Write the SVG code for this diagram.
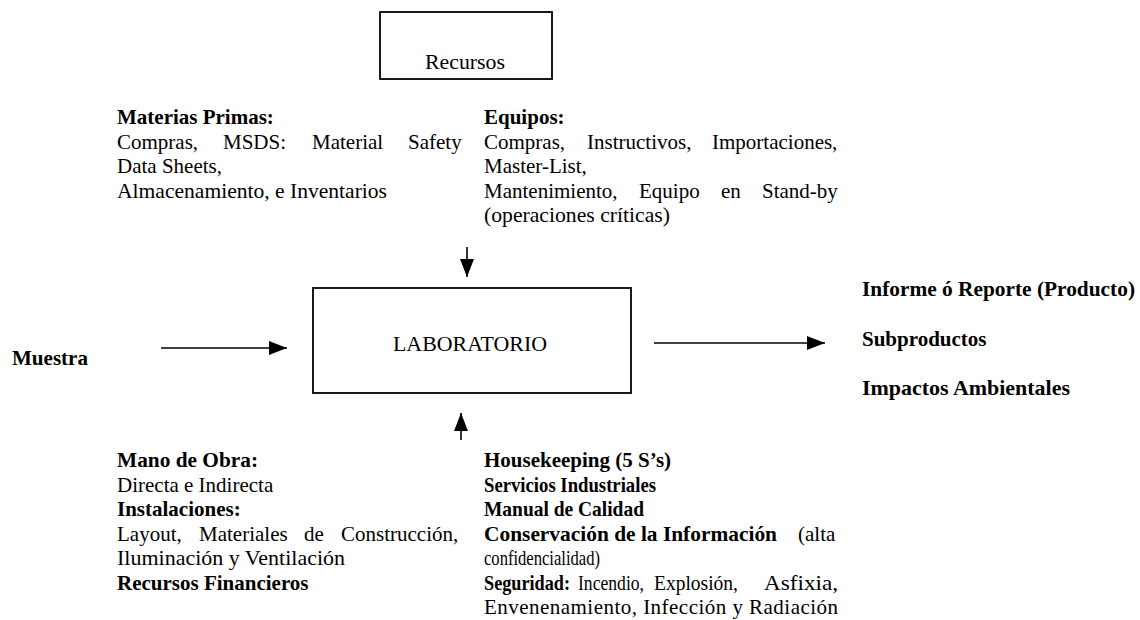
<svg xmlns="http://www.w3.org/2000/svg" width="1140" height="620" viewBox="0 0 1140 620">
<style>
.t{font-family:"Liberation Serif","Times New Roman",serif;font-size:21px;fill:#000}
.b{font-weight:bold}
.box{fill:#fff;stroke:#000;stroke-width:1.8}
.ln{stroke:#000;stroke-width:1.6;fill:none}
</style>
<defs>
<marker id="ah" markerUnits="userSpaceOnUse" markerWidth="18" markerHeight="14" refX="18" refY="7" orient="auto">
<path d="M0,0 L18,7 L0,14 z" fill="#000"/>
</marker>
</defs>
<rect width="1140" height="620" fill="#fff"/>

<g id="recursos">
<rect class="box" x="380" y="12" width="172" height="67"/>
<text class="t" x="425" y="69" textLength="80" lengthAdjust="spacingAndGlyphs">Recursos</text>
</g>

<g id="materias">
<text class="t b" x="117" y="124">Materias Primas:</text>
<text class="t" y="148.5"><tspan x="117">Compras,</tspan><tspan x="223">MSDS:</tspan><tspan x="312">Material</tspan><tspan x="408">Safety</tspan></text>
<text class="t" x="117" y="173">Data Sheets,</text>
<text class="t" x="117" y="197.5" textLength="270" lengthAdjust="spacingAndGlyphs">Almacenamiento, e Inventarios</text>
</g>

<g id="equipos">
<text class="t b" x="484" y="124">Equipos:</text>
<text class="t" y="148.5"><tspan x="484">Compras,</tspan><tspan x="587">Instructivos,</tspan><tspan x="712">Importaciones,</tspan></text>
<text class="t" x="484" y="173">Master-List,</text>
<text class="t" y="197.5"><tspan x="484">Mantenimiento,</tspan><tspan x="639">Equipo</tspan><tspan x="721">en</tspan><tspan x="762">Stand-by</tspan></text>
<text class="t" x="484" y="222" textLength="186" lengthAdjust="spacingAndGlyphs">(operaciones críticas)</text>
</g>

<g id="laboratorio">
<rect class="box" x="313" y="288" width="318" height="105"/>
<text class="t" x="393" y="351" textLength="154" lengthAdjust="spacingAndGlyphs">LABORATORIO</text>
</g>

<g id="muestra">
<text class="t b" x="12" y="365" textLength="76" lengthAdjust="spacingAndGlyphs">Muestra</text>
</g>

<g id="salidas">
<text class="t b" x="862" y="296" textLength="273" lengthAdjust="spacingAndGlyphs">Informe ó Reporte (Producto)</text>
<text class="t b" x="862" y="346">Subproductos</text>
<text class="t b" x="862" y="395" textLength="208" lengthAdjust="spacingAndGlyphs">Impactos Ambientales</text>
</g>

<g id="mano-de-obra">
<text class="t b" x="117" y="467" textLength="141" lengthAdjust="spacingAndGlyphs">Mano de Obra:</text>
<text class="t" x="117" y="491.5">Directa e Indirecta</text>
<text class="t b" x="117" y="516">Instalaciones:</text>
<text class="t" y="540.5"><tspan x="117">Layout,</tspan><tspan x="199">Materiales</tspan><tspan x="304">de</tspan><tspan x="341">Construcción,</tspan></text>
<text class="t" x="117" y="565" textLength="228" lengthAdjust="spacingAndGlyphs">Iluminación y Ventilación</text>
<text class="t b" x="117" y="589.5">Recursos Financieros</text>
</g>

<g id="housekeeping">
<text class="t b" x="484" y="467">Housekeeping (5 S’s)</text>
<text class="t b" x="484" y="491.5" textLength="172" lengthAdjust="spacingAndGlyphs">Servicios Industriales</text>
<text class="t b" x="484" y="516" textLength="160" lengthAdjust="spacingAndGlyphs">Manual de Calidad</text>
<text class="t" y="540.5"><tspan class="b" x="484" textLength="293" lengthAdjust="spacingAndGlyphs">Conservación de la Información</tspan><tspan x="798">(alta</tspan></text>
<text class="t" x="484" y="565" textLength="116" lengthAdjust="spacingAndGlyphs">confidencialidad)</text>
<text class="t" y="589.5"><tspan class="b" x="484" textLength="86" lengthAdjust="spacingAndGlyphs">Seguridad:</tspan><tspan x="578" textLength="66" lengthAdjust="spacingAndGlyphs">Incendio,</tspan><tspan x="654" textLength="84" lengthAdjust="spacingAndGlyphs">Explosión,</tspan><tspan x="764" textLength="74" lengthAdjust="spacingAndGlyphs">Asfixia,</tspan></text>
<text class="t" x="484" y="613.5" textLength="354" lengthAdjust="spacing">Envenenamiento, Infección y Radiación</text>
</g>

<g id="connectors">
<line class="ln" x1="467" y1="247" x2="467" y2="277" marker-end="url(#ah)"/>
<line class="ln" x1="161" y1="348" x2="287" y2="348" marker-end="url(#ah)"/>
<line class="ln" x1="654" y1="343" x2="825" y2="343" marker-end="url(#ah)"/>
<line class="ln" x1="461" y1="440" x2="461" y2="413" marker-end="url(#ah)"/>
</g>
</svg>
